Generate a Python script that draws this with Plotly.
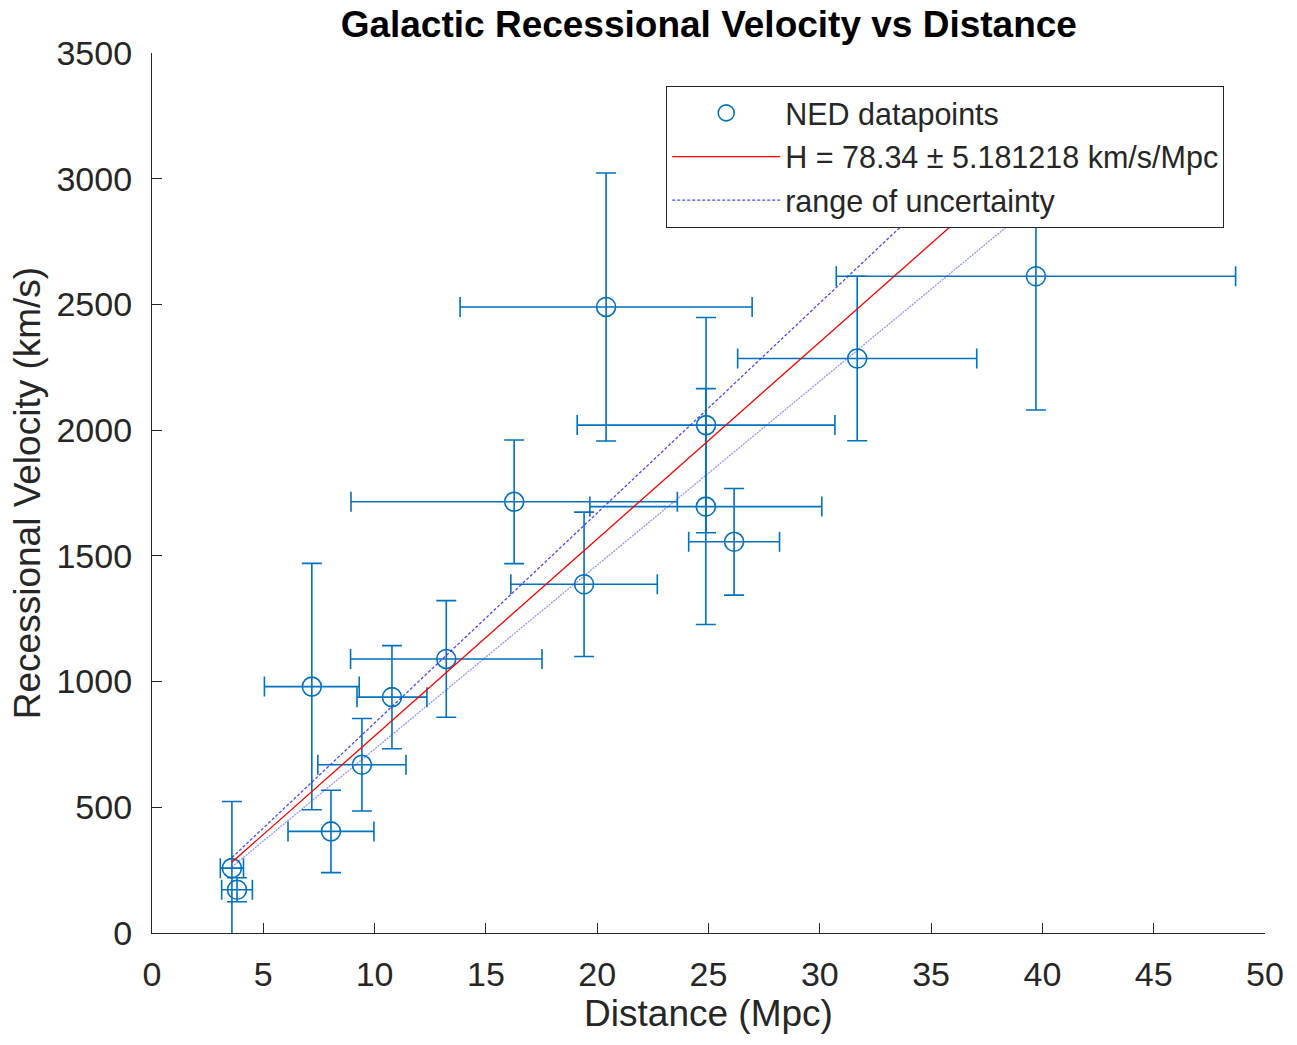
import plotly.graph_objects as go
import numpy as np

# ---- data ----
distance = [3.59, 3.82, 7.18, 8.04, 9.43, 10.78, 13.22, 20.40, 16.27, 24.89, 24.88, 26.15, 19.41, 31.68, 39.71]
distance_err = [0.52, 0.69, 2.13, 1.93, 1.98, 1.57, 4.30, 6.56, 7.33, 5.79, 5.21, 2.04, 3.29, 5.37, 8.97]
velocity = [258, 172, 980, 404, 669, 938, 1090, 2490, 1715, 2020, 1696, 1556, 1387, 2285, 2612]
velocity_err = [265, 48, 490, 164, 184, 205, 232, 533, 246, 428, 469, 212, 287, 327, 532]

H = 78.34
dH = 5.181218

x_ticks = [0, 5, 10, 15, 20, 25, 30, 35, 40, 45, 50]
y_ticks = [0, 500, 1000, 1500, 2000, 2500, 3000, 3500]

FONT = "Liberation Sans, Arial, Helvetica, sans-serif"
BLUE = "#0072BD"
AX = "#262626"

xfit = np.array([min(distance), max(distance)])

fig = go.Figure()
fig.add_trace(go.Scatter(
    x=distance, y=velocity, mode="markers", name="NED datapoints",
    legendgroup="a",
    marker=dict(symbol="circle-open", size=19, color=BLUE, line=dict(width=1.6, color=BLUE)),
    error_y=dict(type="data", array=velocity_err, visible=True, color=BLUE, thickness=1.6, width=10),
    error_x=dict(type="data", array=distance_err, visible=True, color=BLUE, thickness=1.6, width=10),
))
fig.add_trace(go.Scatter(
    x=xfit, y=H * xfit, mode="lines", name=f"H = {H} \u00b1 {dH} km/s/Mpc",
    legendgroup="b",
    line=dict(color="red", width=1.3),
))
fig.add_trace(go.Scatter(
    x=xfit, y=(H + dH) * xfit, mode="lines", name="range of uncertainty",
    legendgroup="c",
    line=dict(color="rgba(40,40,255,0.85)", width=1.3, dash="3px,2px"),
))
fig.add_trace(go.Scatter(
    x=xfit, y=(H - dH) * xfit, mode="lines", name="range of uncertainty",
    legendgroup="c", showlegend=False,
    line=dict(color="rgba(60,60,255,0.55)", width=1.3, dash="2px,1px"),
))

fig.update_layout(
    width=1297, height=1045,
    margin=dict(l=152, r=32, t=53, b=112),
    paper_bgcolor="white", plot_bgcolor="white",
    font=dict(family=FONT, color=AX),
    title=dict(text="Galactic Recessional Velocity vs Distance", x=0.5465, xanchor="center",
               y=0.977, yanchor="middle",
               font=dict(family=FONT, size=37, color="black", weight="bold")),
    showlegend=True,
    legend=dict(
        x=0.462, y=0.963, xanchor="left", yanchor="top",
        bgcolor="white", bordercolor=AX, borderwidth=1,
        font=dict(family=FONT, size=30.5, color=AX),
        traceorder="grouped", tracegroupgap=1, itemwidth=108,
    ),
)
fig.update_xaxes(
    range=[0, 50], tickvals=x_ticks, ticktext=[str(v) for v in x_ticks],
    showgrid=False, zeroline=False, showline=True, linecolor=AX, linewidth=1.2,
    ticks="inside", ticklen=10, tickcolor=AX, tickwidth=1.2,
    tickfont=dict(family=FONT, size=34, color=AX), ticklabelstandoff=11,
    title=dict(text="Distance (Mpc)", font=dict(family=FONT, size=37, color=AX), standoff=0),
    mirror=False,
)
fig.update_yaxes(
    range=[0, 3500], tickvals=y_ticks, ticktext=[str(v) for v in y_ticks],
    showgrid=False, zeroline=False, showline=True, linecolor=AX, linewidth=1.2,
    ticks="inside", ticklen=10, tickcolor=AX, tickwidth=1.2,
    tickfont=dict(family=FONT, size=34, color=AX), ticklabelstandoff=12,
    title=dict(text="Recessional Velocity (km/s)", font=dict(family=FONT, size=37, color=AX), standoff=4),
    mirror=False,
)

fig.write_html("out.html")
